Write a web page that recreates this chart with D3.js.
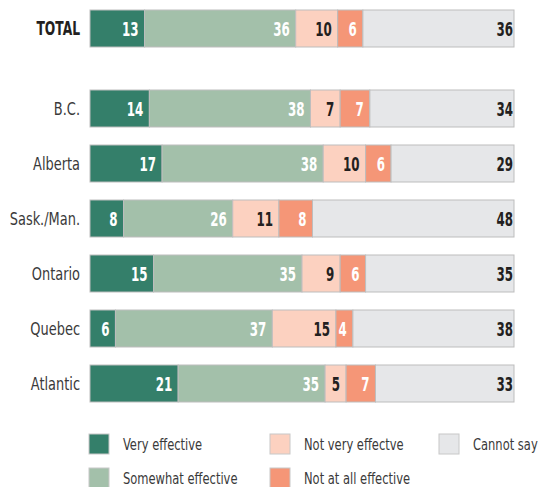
<!DOCTYPE html>
<html>
<head>
<meta charset="utf-8">
<script src="https://cdn.jsdelivr.net/npm/d3@7"></script>
<style>
  body { margin: 0; background: #fff; }
  text { font-family: "DejaVu Sans Condensed", "Liberation Sans", sans-serif; }
</style>
</head>
<body>
<div id="chart"></div>
<script>
var svgWidth = 541;
var svgHeight = 487;

// data
var categories = ["TOTAL", "B.C.", "Alberta", "Sask./Man.", "Ontario", "Quebec", "Atlantic"];
var seriesNames = ["Very effective", "Somewhat effective", "Not very effectve", "Not at all effective", "Cannot say"];
var veryEffective     = [13, 14, 17, 8, 15, 6, 21];
var somewhatEffective = [36, 38, 38, 26, 35, 37, 35];
var notVeryEffective  = [10, 7, 10, 11, 9, 15, 5];
var notAtAllEffective = [6, 7, 6, 8, 6, 4, 7];
var cannotSay         = [36, 34, 29, 48, 35, 38, 33];

var colors = ["#347f6a", "#a3c0aa", "#fcd1c0", "#f59677", "#e6e7e9"];
var labelColors = ["#fff", "#fff", "#231f20", "#fff", "#231f20"];

var seriesKeys = ["very", "somewhat", "notVery", "notAtAll", "cannot"];
var table = categories.map(function(c, i) {
  return {
    cat: c,
    very: veryEffective[i],
    somewhat: somewhatEffective[i],
    notVery: notVeryEffective[i],
    notAtAll: notAtAllEffective[i],
    cannot: cannotSay[i]
  };
});

// condensed look: squeeze the text horizontally around its anchor
var narrow = 0.8, narrowBold = 0.66;

var svg = d3.select("#chart").append("svg")
  .attr("width", svgWidth)
  .attr("height", svgHeight);

var x = d3.scaleLinear().domain([0, 1]).range([90, 514]);

var barStep = 55, barH = 37, groupGap = 25;
var yBand = d3.scaleBand()
  .domain(categories)
  .range([10, 10 + barStep * categories.length - (barStep - barH)])
  .paddingInner((barStep - barH) / barStep)
  .paddingOuter(0);

function rowY(cat) {
  return yBand(cat) + (cat === "TOTAL" ? 0 : groupGap);
}

var stacked = d3.stack().keys(seriesKeys).offset(d3.stackOffsetExpand)(table);

// bars
var layers = svg.append("g").selectAll("g")
  .data(stacked)
  .enter()
  .append("g")
  .attr("fill", (d, i) => colors[i]);

layers.selectAll("rect")
  .data(d => d)
  .enter()
  .append("rect")
  .attr("x", d => x(d[0]))
  .attr("y", d => rowY(d.data.cat))
  .attr("width", d => x(d[1]) - x(d[0]))
  .attr("height", yBand.bandwidth())
  .attr("stroke", "#bdbdbd")
  .attr("stroke-width", 1);

// value labels
stacked.forEach(function(layer, si) {
  svg.append("g").selectAll("text")
    .data(layer)
    .enter()
    .append("text")
    .attr("transform", function(d) {
      var tx = x(d[1]) - (si === 4 ? 1 : 6);
      var ty = rowY(d.data.cat) + yBand.bandwidth() / 2 + 7.5;
      return `translate(${tx}, ${ty}) scale(${narrowBold}, 1)`;
    })
    .attr("text-anchor", "end")
    .attr("font-size", "20px")
    .attr("font-weight", "bold")
    .attr("fill", labelColors[si])
    .text(d => d.data[layer.key]);
});

// category labels
svg.append("g").selectAll("text")
  .data(categories)
  .enter()
  .append("text")
  .attr("transform", d => `translate(80, ${rowY(d) + yBand.bandwidth() / 2 + 6.5}) scale(${d === "TOTAL" ? 0.72 : narrow}, 1)`)
  .attr("text-anchor", "end")
  .attr("font-size", d => d === "TOTAL" ? "19px" : "18px")
  .attr("font-weight", d => d === "TOTAL" ? "bold" : "normal")
  .attr("fill", d => d === "TOTAL" ? "#231f20" : "#3a3a3a")
  .text(d => d);

// legend
var legendCols = [89, 270, 439];
var legendRows = [434, 468];
var legendPos = [[0, 0], [0, 1], [1, 0], [1, 1], [2, 0]];

var legend = svg.append("g").selectAll("g")
  .data(seriesNames)
  .enter()
  .append("g")
  .attr("transform", (d, i) => `translate(${legendCols[legendPos[i][0]]}, ${legendRows[legendPos[i][1]]})`);

legend.append("rect")
  .attr("width", 20)
  .attr("height", 20)
  .attr("fill", (d, i) => colors[i])
  .attr("stroke", "#c8c8c8")
  .attr("stroke-width", 1);

legend.append("text")
  .attr("transform", `translate(34, 16) scale(${narrow}, 1)`)
  .attr("font-size", "16px")
  .attr("fill", "#3a3a3a")
  .text(d => d);
</script>
</body>
</html>
